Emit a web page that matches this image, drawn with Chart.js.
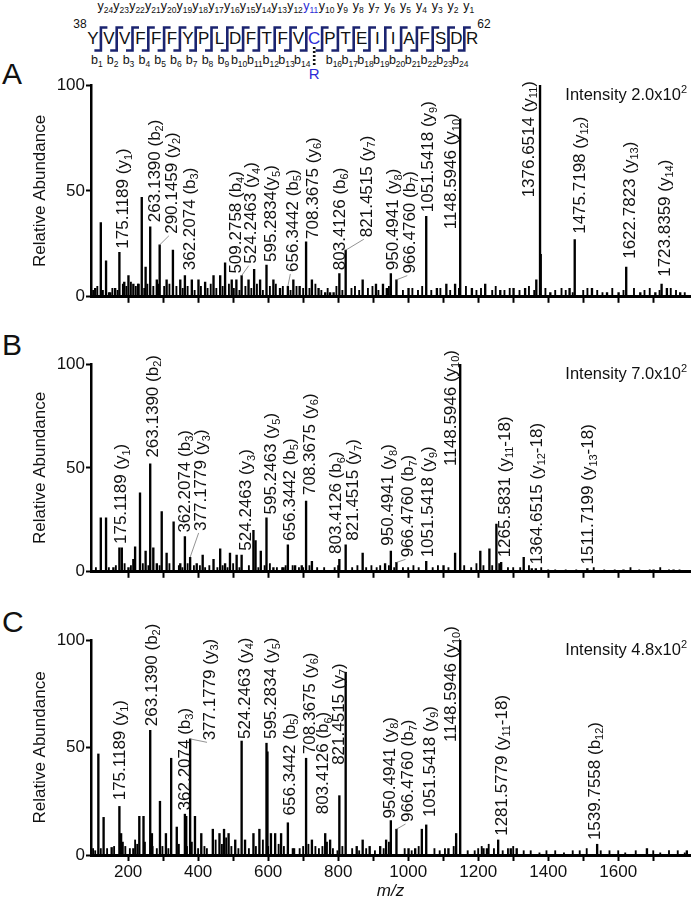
<!DOCTYPE html>
<html>
<head>
<meta charset="utf-8">
<script src="https://cdn.jsdelivr.net/npm/chart.js@4.4.1/dist/chart.umd.min.js"></script>
<style>
  body { margin: 0; background: #fff; }
  #wrap { position: relative; width: 693px; height: 909px; overflow: hidden; }
  #wrap svg, #wrap canvas { position: absolute; left: 0; }
</style>
</head>
<body>
<div id="wrap">
  <svg id="seq" width="693" height="909" style="top:0"></svg>
  <canvas id="panelA" width="693" height="243" style="top:65px"></canvas>
  <canvas id="panelB" width="693" height="239" style="top:344px"></canvas>
  <canvas id="panelC" width="693" height="294" style="top:615px"></canvas>
</div>
<script>
// peptide 38-62
const residues = 'YVVFFFYPLDFTFVCPTEIIAFSDR'.split('');
const SITE = 14; // modified Cys (R adduct)

// panel A peaks (m/z, relative abundance)
const mzA = [106, 122, 137, 149, 163, 175.12, 189, 201, 215, 230,
  239, 250, 263.14, 282, 290.15, 310, 328, 349, 362.21, 382,
  401, 420, 444, 463, 477, 496, 509.28, 524.25, 544, 560,
  577, 595.28, 615, 634, 656.34, 672, 690, 708.37, 725, 744,
  763, 777, 787, 803.41, 821.45, 870, 908, 928, 939, 950.49,
  966.48, 1001, 1051.54, 1082, 1109, 1134, 1148.59, 1182, 1220, 1263,
  1301, 1334, 1366, 1376.65, 1378.6, 1406, 1461, 1475.72, 1525, 1568,
  1601, 1622.78, 1663, 1706, 1723.84, 1739, 1777];
const intA = [4, 35, 17, 2, 4, 21, 7, 10, 6, 6,
  47, 14, 33, 8, 24.5, 8, 22, 8, 10, 8,
  8, 7, 10, 10, 16, 8, 8, 10, 8, 13,
  8, 15, 8, 4, 5, 8, 5, 26, 8, 4,
  2, 2, 2, 11, 22, 8, 6, 6, 4, 11,
  8, 4, 38, 4, 6, 6, 84, 4, 6, 3,
  4, 4, 8, 100, 20, 2, 4, 27, 4, 2,
  2, 14, 2, 2, 6, 4, 2];
const noiseMzA = [100, 112, 128, 145, 155, 170, 185, 195, 208, 222,
  228, 246, 255, 272, 286, 303, 318, 338, 356, 370,
  390, 408, 427, 436, 452, 470, 488, 502, 518, 535,
  552, 568, 585, 605, 622, 642, 664, 681, 700, 718,
  735, 752, 770, 795, 812, 838, 848, 860, 885, 898,
  915, 945, 985, 1012, 1028, 1040, 1066, 1092, 1120, 1145,
  1165, 1195, 1208, 1240, 1250, 1275, 1290, 1318, 1345, 1360,
  1392, 1420, 1438, 1450, 1470, 1500, 1512, 1540, 1555, 1583,
  1615, 1645, 1675, 1690, 1718, 1750, 1765, 1790];
const noiseIntA = [3, 5, 3, 2, 4, 3, 6, 5, 7, 5,
  6, 4, 6, 5, 6, 5, 6, 5, 4, 5,
  3, 5, 4, 6, 4, 5, 6, 4, 3, 5,
  4, 6, 3, 5, 6, 5, 3, 5, 4, 4,
  6, 3, 4, 5, 3, 4, 5, 3, 4, 5,
  3, 5, 3, 4, 3, 5, 3, 4, 3, 4,
  5, 3, 4, 3, 5, 3, 4, 3, 5, 3,
  4, 3, 4, 3, 2, 3, 4, 3, 2, 4,
  3, 4, 3, 4, 3, 4, 3, 2];
// [text m/z, text start value, label, leader from m/z, leader from value]
const labelsA = [
  [186.7, 21.8, '175.1189 (y_1)'],
  [277, 34.3, '263.1390 (b_2)'],
  [325, 28.8, '290.1459 (y_2)', 290.15, 24.5],
  [377, 11.6, '362.2074 (b_3)'],
  [508, 10, '509.2758 (b_4)'],
  [553, 14.7, '524.2463 (y_4)', 524.25, 10],
  [610, 15.5, '595.2834(y_5)'],
  [672, 10.8, '656.3442 (b_5)', 656.34, 5],
  [729, 26.4, '708.3675 (y_6)'],
  [806, 11.6, '803.4126 (b_6)'],
  [882, 27.2, '821.4515 (y_7)', 821.45, 22],
  [958, 11.6, '950.4941 (y_8)'],
  [1006, 10, '966.4760 (b_7)', 966.48, 8],
  [1058, 39, '1051.5418 (y_9)'],
  [1124, 31, '1148.5946 (y_10)'],
  [1345, 46, '1376.6514 (y_11)'],
  [1491, 28.8, '1475.7198 (y_12)'],
  [1634, 17, '1622.7823 (y_13)'],
  [1734, 8.5, '1723.8359 (y_14)']
];

// panel B
const mzB = [122, 137, 158, 175.12, 182, 201, 215, 220, 234, 250,
  263.14, 272, 282, 296, 310, 330, 349, 362.21, 377.18, 396,
  413, 444, 463, 477, 491, 510, 524.25, 558, 564, 579,
  595.25, 615, 644, 656.34, 677, 696, 708.37, 725, 803.41, 821.45,
  870, 934, 950.49, 966.48, 1051.54, 1101, 1134, 1148.59, 1206, 1232,
  1252, 1265.58, 1330, 1353, 1364.65, 1511.72, 1615, 1701, 1758];
const intB = [26, 26, 2, 11.5, 11.5, 2, 6, 12, 38, 10,
  52, 11.5, 4, 29, 9, 24, 4, 17, 7, 4,
  8, 6, 11, 4, 9, 8, 8, 20, 15, 10,
  26, 2, 2, 13, 3, 3, 34, 5, 6, 13,
  9, 4, 10, 4.5, 5, 3, 9, 100, 10, 11,
  23, 4.5, 7, 1.5, 1.5, 1.5, 1, 1, 1];
const noiseMzB = [108, 145, 165, 190, 208, 242, 258, 290, 318, 345,
  355, 370, 388, 405, 420, 432, 455, 470, 484, 500,
  518, 545, 572, 590, 605, 625, 640, 650, 670, 688,
  700, 718, 740, 760, 790, 800, 840, 855, 880, 895,
  910, 920, 945, 960, 985, 1000, 1015, 1030, 1070, 1085,
  1115, 1160, 1180, 1195, 1215, 1240, 1260, 1285, 1300, 1320,
  1345, 1380, 1400, 1420, 1450, 1480, 1530, 1560, 1590, 1635,
  1660, 1690, 1720, 1745, 1775];
const noiseIntB = [2, 2, 3, 4, 3, 4, 3, 3, 4, 3,
  2, 4, 3, 3, 2, 3, 2, 3, 2, 4,
  2, 3, 2, 3, 4, 2, 2, 3, 3, 2,
  2, 3, 2, 2, 2, 3, 2, 3, 2, 3,
  2, 3, 3, 2, 2, 2, 3, 2, 2, 3,
  2, 3, 2, 4, 3, 3, 4, 2, 2, 2,
  3, 2, 1, 1, 1, 1, 2, 1, 1, 2,
  1, 1, 2, 1, 1];
const labelsB = [
  [182, 12.4, '175.1189 (y_1)'],
  [272, 54, '263.1390 (b_2)'],
  [363, 17.9, '362.2074 (b_3)'],
  [410, 18.7, '377.1779 (y_3)', 377.18, 7],
  [539, 9.2, '524.2463 (y_3)'],
  [610, 26.6, '595.2463 (y_5)'],
  [663, 13.9, '656.3442 (b_5)'],
  [720, 36, '708.3675 (y_6)'],
  [796, 7.6, '803.4126 (b_6)'],
  [844, 14, '821.4515 (y_7)'],
  [944, 11.6, '950.4941 (y_8)'],
  [1001, 6, '966.4760 (b_7)', 966.48, 4.5],
  [1058, 6, '1051.5418 (y_9)'],
  [1122, 50, '1148.5946 (y_10)'],
  [1277, 6, '1265.5831 (y_11-18)'],
  [1368, 2.5, '1364.6515 (y_12-18)'],
  [1515, 2.5, '1511.7199 (y_13-18)']
];

// panel C
const mzC = [115, 130, 153, 175.12, 180, 215, 232, 244, 263.14, 268,
  291, 308, 323, 339, 362.21, 366, 377.18, 391, 409, 442,
  461, 474, 487, 506, 524.25, 534, 558, 575, 595.28, 598,
  608, 620, 637, 656.34, 674, 708.37, 725, 763, 777, 803.41,
  821.45, 853, 870, 890, 920, 937, 950.49, 966.48, 1001, 1020,
  1039, 1051.54, 1115, 1137, 1148.59, 1215, 1225, 1257, 1293, 1310,
  1539.76, 1682, 1796];
const intC = [47, 17.5, 3.5, 22.6, 10, 3, 18, 18, 58, 10,
  25, 10, 45, 13, 19, 18, 54, 18, 10, 12,
  10, 12, 10, 7, 53, 7, 10, 12, 52, 48,
  10, 10, 10, 15, 3, 45, 7, 10, 7, 27.6,
  85, 4, 7, 4, 4, 7, 16, 12, 3, 3,
  12, 14, 3, 10, 100, 3, 3, 7, 3, 3,
  5, 3, 2];
const noiseMzC = [100, 106, 122, 140, 160, 185, 192, 205, 220, 226,
  248, 270, 282, 298, 315, 345, 368, 382, 400, 418,
  425, 450, 468, 480, 495, 515, 545, 565, 585, 600,
  630, 645, 670, 690, 700, 715, 735, 745, 755, 768,
  785, 798, 812, 840, 860, 880, 905, 930, 945, 990,
  1010, 1030, 1075, 1090, 1105, 1130, 1170, 1190, 1200, 1210,
  1230, 1245, 1270, 1285, 1300, 1330, 1350, 1375, 1395, 1420,
  1445, 1470, 1490, 1510, 1550, 1575, 1600, 1620, 1650, 1700,
  1720, 1745, 1770, 1790];
const noiseIntC = [3, 2, 3, 3, 4, 6, 4, 3, 7, 5,
  6, 4, 3, 4, 3, 5, 4, 6, 3, 4,
  3, 7, 5, 8, 4, 3, 3, 4, 7, 4,
  5, 4, 3, 3, 4, 5, 4, 3, 4, 6,
  3, 2, 4, 3, 2, 3, 2, 3, 6, 3,
  2, 4, 3, 2, 3, 4, 2, 2, 3, 4,
  5, 3, 2, 3, 4, 2, 2, 1, 2, 2,
  1, 2, 2, 3, 2, 2, 2, 1, 2, 2,
  1, 2, 2, 1];
const labelsC = [
  [177, 24.5, '175.1189 (y_1)'],
  [268, 59, '263.1390 (b_2)'],
  [363, 19.8, '362.2074 (b_3)'],
  [434, 52.4, '377.1779 (y_3)', 377.18, 54],
  [534, 53, '524.2463 (y_4)'],
  [610, 53, '595.2834 (y_5)'],
  [663, 17.5, '656.3442 (b_5)'],
  [720, 46, '708.3675 (y_6)'],
  [758, 18, '803.4126 (b_6)'],
  [802, 41, '821.4515 (y_7)'],
  [948, 16, '950.4941 (y_8)'],
  [1001, 14.4, '966.4760 (b_7)', 966.48, 12],
  [1063, 16.7, '1051.5418 (y_9)'],
  [1124, 51.6, '1148.5946 (y_10)'],
  [1268, 8, '1281.5779 (y_11-18)'],
  [1534, 6, '1539.7558 (b_12)']
];

const FONT = '"Liberation Sans", Arial, Helvetica, sans-serif';
const INK = '#111';

// ---- sequence diagram + panel letters (svg) ----
(function drawSequence() {
  const svg = document.getElementById('seq');
  const navy = '#1b2470', blue = '#2b2bd6';
  const x0 = 93, step = 15.8;
  let s = '';
  const t = (x, y, size, fill, body, anchor) =>
    `<text x="${x}" y="${y}" font-size="${size}" fill="${fill}" text-anchor="${anchor || 'middle'}" font-family='${FONT}'>${body}</text>`;
  const sub = (letter, n) => `${letter}<tspan font-size="8.5" dy="3">${n}</tspan>`;

  residues.forEach((r, i) => {
    s += t(x0 + i * step, 43.5, 17, i === SITE ? blue : INK, r);
  });
  for (let j = 0; j < residues.length - 1; j++) {
    const bx = x0 + (j + 0.5) * step;
    s += `<path d="M${bx + 6.5},27.5 H${bx} V50.5 H${bx - 6.5}" fill="none" stroke="${navy}" stroke-width="2.6"/>`;
    const yn = residues.length - 1 - j;
    s += t(bx + 4.5, 10, 12.5, yn === 11 ? blue : INK, sub('y', yn));
    if (j !== SITE) s += t(bx - 4, 64, 12.5, INK, sub('b', j + 1));
  }
  const cx = x0 + SITE * step;
  s += `<line x1="${cx}" y1="47" x2="${cx}" y2="67" stroke="${INK}" stroke-width="2.6" stroke-dasharray="2,2"/>`;
  s += t(cx, 79, 15, blue, 'R');
  s += t(80, 28, 12, INK, '38');
  s += t(484, 28, 12, INK, '62');
  s += t(2, 84, 30, INK, 'A', 'start');
  s += t(2, 355, 30, INK, 'B', 'start');
  s += t(2, 632, 30, INK, 'C', 'start');
  svg.innerHTML = s;
})();

// text with _sub and ^sup digits
function richParts(text) {
  const out = [];
  const re = /([_^])(\d+)/g;
  let last = 0, m;
  while ((m = re.exec(text))) {
    out.push([text.slice(last, m.index), 0]);
    out.push([m[2], m[1] === '_' ? 1 : -1]);
    last = re.lastIndex;
  }
  out.push([text.slice(last), 0]);
  return out;
}

function drawRich(ctx, text, x, y, size, measureOnly) {
  let cx = x;
  ctx.textBaseline = 'middle';
  ctx.textAlign = 'left';
  richParts(text).forEach(([p, kind]) => {
    ctx.font = (kind ? Math.round(size * 0.65) : size) + 'px ' + FONT;
    if (!measureOnly) ctx.fillText(p, cx, y + kind * size * 0.3);
    cx += ctx.measureText(p).width;
  });
  return cx - x;
}

const peakLabels = {
  id: 'peakLabels',
  afterDatasetsDraw(chart, args, opts) {
    const { ctx, scales: { x, y }, chartArea } = chart;
    ctx.save();
    ctx.fillStyle = INK;
    opts.items.forEach(([tm, tv, text, lm, lv]) => {
      const px = x.getPixelForValue(tm);
      const py = y.getPixelForValue(tv) - 2;
      if (lm !== undefined) {
        ctx.strokeStyle = '#777';
        ctx.lineWidth = 0.8;
        ctx.beginPath();
        ctx.moveTo(x.getPixelForValue(lm), y.getPixelForValue(lv));
        ctx.lineTo(px - 3, py + 2);
        ctx.stroke();
      }
      ctx.save();
      ctx.translate(px, py);
      ctx.rotate(-Math.PI / 2);
      drawRich(ctx, text, 0, 0, 17);
      ctx.restore();
    });
    // intensity note, top right
    const w = drawRich(ctx, opts.intensity, 0, 0, 16.5, true);
    drawRich(ctx, opts.intensity, chartArea.right - 3 - w, chartArea.top + 10, 16.5);
    ctx.restore();
  }
};

function makePanel(id, mz, inten, nmz, nint, labels, intensity, padTop, showX) {
  const toXY = (xs, ys) => xs.map((v, i) => ({ x: v, y: ys[i] }));
  return new Chart(document.getElementById(id), {
    type: 'bar',
    data: {
      datasets: [
        { data: toXY(nmz, nint), backgroundColor: '#000', barThickness: 1.2, grouped: false },
        { data: toXY(mz, inten), backgroundColor: '#000', barThickness: 1.7, grouped: false }
      ]
    },
    options: {
      responsive: false,
      animation: false,
      layout: { padding: { top: padTop, right: 3, left: 0, bottom: 0 } },
      plugins: {
        legend: { display: false },
        tooltip: { enabled: false },
        peakLabels: { items: labels, intensity: intensity }
      },
      scales: {
        x: {
          type: 'linear',
          offset: false,
          min: 94,
          max: 1805,
          afterBuildTicks: s => { s.ticks = s.ticks.filter(t => t.value % 100 === 0 && t.value >= 200 && t.value <= 1700); },
          afterFit: s => { s.height = showX ? 54 : 10; },
          ticks: {
            stepSize: 100,
            autoSkip: false,
            maxRotation: 0,
            padding: 1,
            color: INK,
            font: { family: FONT, size: 17 },
            callback: v => (showX && v % 200 === 0 ? String(v) : '')
          },
          grid: { display: true, offset: false, drawOnChartArea: false, tickLength: 6, tickWidth: 2, tickColor: '#000' },
          border: { display: true, color: '#000', width: 3 },
          title: {
            display: showX,
            text: 'm/z',
            color: INK,
            font: { family: FONT, size: 17, style: 'italic' },
            padding: { top: 0, bottom: 8 }
          }
        },
        y: {
          min: 0,
          max: 100,
          afterFit: s => { s.width = 91; },
          ticks: { stepSize: 50, padding: 1, color: INK, font: { family: FONT, size: 17 } },
          grid: { display: true, drawOnChartArea: false, tickLength: 5, tickWidth: 2, tickColor: '#000' },
          border: { display: true, color: '#000', width: 2.5 },
          title: {
            display: true,
            text: 'Relative Abundance',
            color: INK,
            font: { family: FONT, size: 17 },
            padding: { top: 30, bottom: 0 }
          }
        }
      }
    },
    plugins: [peakLabels]
  });
}

makePanel('panelA', mzA, intA, noiseMzA, noiseIntA, labelsA, 'Intensity 2.0x10^2', 20, false);
makePanel('panelB', mzB, intB, noiseMzB, noiseIntB, labelsB, 'Intensity 7.0x10^2', 20, false);
makePanel('panelC', mzC, intC, noiseMzC, noiseIntC, labelsC, 'Intensity 4.8x10^2', 25, true);
</script>
</body>
</html>
